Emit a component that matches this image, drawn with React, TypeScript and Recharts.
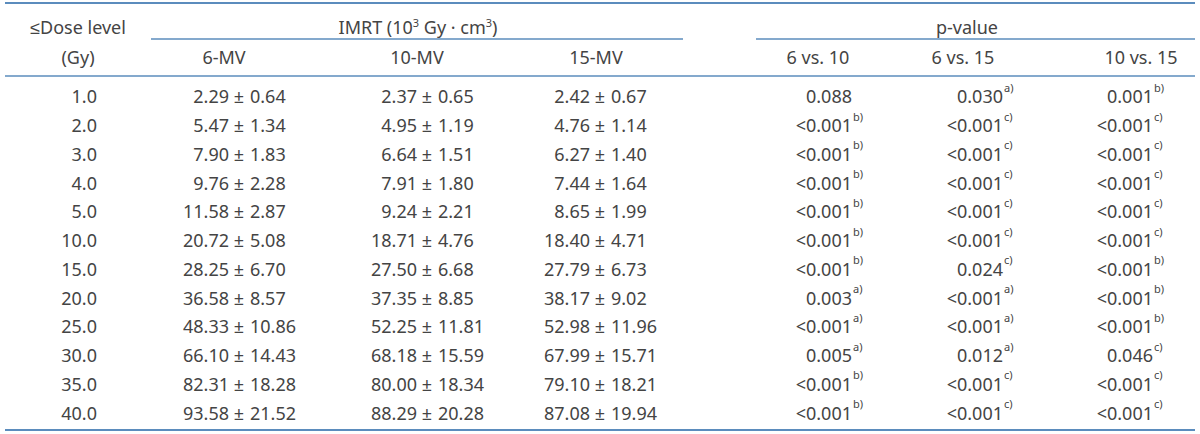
import React from 'react';
import { ScatterChart, Scatter, XAxis, YAxis, ReferenceLine } from 'recharts';

const doses = ['1.0', '2.0', '3.0', '4.0', '5.0', '10.0', '15.0', '20.0', '25.0', '30.0', '35.0', '40.0'];

const mean6 = [2.29, 5.47, 7.9, 9.76, 11.58, 20.72, 28.25, 36.58, 48.33, 66.1, 82.31, 93.58];
const sd6 = [0.64, 1.34, 1.83, 2.28, 2.87, 5.08, 6.7, 8.57, 10.86, 14.43, 18.28, 21.52];
const mean10 = [2.37, 4.95, 6.64, 7.91, 9.24, 18.71, 27.5, 37.35, 52.25, 68.18, 80.0, 88.29];
const sd10 = [0.65, 1.19, 1.51, 1.8, 2.21, 4.76, 6.68, 8.85, 11.81, 15.59, 18.34, 20.28];
const mean15 = [2.42, 4.76, 6.27, 7.44, 8.65, 18.4, 27.79, 38.17, 52.98, 67.99, 79.1, 87.08];
const sd15 = [0.67, 1.14, 1.4, 1.64, 1.99, 4.71, 6.73, 9.02, 11.96, 15.71, 18.21, 19.94];

const p6v10 = ['0.088', '<0.001', '<0.001', '<0.001', '<0.001', '<0.001', '<0.001', '0.003', '<0.001', '0.005', '<0.001', '<0.001'];
const note6v10 = ['', 'b)', 'b)', 'b)', 'b)', 'b)', 'b)', 'a)', 'a)', 'a)', 'b)', 'b)'];
const p6v15 = ['0.030', '<0.001', '<0.001', '<0.001', '<0.001', '<0.001', '0.024', '<0.001', '<0.001', '0.012', '<0.001', '<0.001'];
const note6v15 = ['a)', 'c)', 'c)', 'c)', 'c)', 'c)', 'c)', 'a)', 'a)', 'a)', 'c)', 'c)'];
const p10v15 = ['0.001', '<0.001', '<0.001', '<0.001', '<0.001', '<0.001', '<0.001', '<0.001', '<0.001', '0.046', '<0.001', '<0.001'];
const note10v15 = ['b)', 'c)', 'c)', 'c)', 'c)', 'c)', 'b)', 'b)', 'b)', 'c)', 'c)', 'c)'];

const subHeads = ['6-MV', '10-MV', '15-MV', '6 vs. 10', '6 vs. 15', '10 vs. 15'];

// layout: x in px of the 1200 wide table, y in row units (row 0 = first dose row)
const W = 1200;
const H = 434;
const Y_DOMAIN: [number, number] = [-3.374, 11.722];
const TITLE_ROW = -2.42;
const SUB_ROW = -1.36;
const RULE_TOP = -3.27;
const RULE_GROUP = -2.02;
const RULE_HEAD = -0.73;
const RULE_BOTTOM = 11.58;

const TEXT = '#444';
const RULE = '#5b8cbd';
const FONT = '"Noto Sans", sans-serif';
const FS = 18;
const SUP = 11;

const doseRows = doses.map((d, i) => ({ x: 97, y: i, text: d }));
const mvRows = (cx: number, means: number[], sds: number[]) =>
  means.map((m, i) => ({ x: cx, y: i, mean: m.toFixed(2), sd: sds[i].toFixed(2) }));
const pRows = (cx: number, ps: string[], notes: string[]) =>
  ps.map((p, i) => ({ x: cx, y: i, text: p, note: notes[i] }));

const subHeadX = [224, 417, 596, 818, 963, 1141];
const subHeadRows = subHeads.map((s, i) => ({ x: subHeadX[i], y: SUB_ROW, text: s }));

const DoseCell = (props: any) => (
  <text x={props.cx} y={props.cy} dy="0.36em" textAnchor="end" fill={TEXT} fontSize={FS} fontFamily={FONT}>
    {props.payload.text}
  </text>
);

const MvCell = (props: any) => {
  const { cx, cy, payload } = props;
  return (
    <g fill={TEXT} fontSize={FS} fontFamily={FONT}>
      <text x={cx - 10} y={cy} dy="0.36em" textAnchor="end">{payload.mean}</text>
      <text x={cx} y={cy} dy="0.36em" textAnchor="middle">±</text>
      <text x={cx + 11} y={cy} dy="0.36em" textAnchor="start">{payload.sd}</text>
    </g>
  );
};

const PCell = (props: any) => {
  const { cx, cy, payload } = props;
  return (
    <g fill={TEXT} fontFamily={FONT}>
      <text x={cx} y={cy} dy="0.36em" textAnchor="end" fontSize={FS}>{payload.text}</text>
      {payload.note ? (
        <text x={cx + 1} y={cy - 5} textAnchor="start" fontSize={SUP}>{payload.note}</text>
      ) : null}
    </g>
  );
};

const CenterCell = (props: any) => (
  <text x={props.cx} y={props.cy} dy="0.36em" textAnchor="middle" fill={TEXT} fontSize={FS} fontFamily={FONT}>
    {props.payload.text}
  </text>
);

const TitleCell = (props: any) => {
  const { cx, cy, payload } = props;
  if (payload.kind === 'imrt') {
    return (
      <text x={cx} y={cy} dy="0.36em" textAnchor="middle" fill={TEXT} fontSize={FS} fontFamily={FONT}>
        IMRT (10<tspan dy={-7} fontSize={SUP}>3</tspan>
        <tspan dy={7}> Gy · cm</tspan>
        <tspan dy={-7} fontSize={SUP}>3</tspan>
        <tspan dy={7}>)</tspan>
      </text>
    );
  }
  return (
    <text x={cx} y={cy} dy="0.36em" textAnchor="middle" fill={TEXT} fontSize={FS} fontFamily={FONT}>
      {payload.text}
    </text>
  );
};

const titleRows = [
  { x: 78, y: TITLE_ROW, text: '≤Dose level', kind: 'text' },
  { x: 78, y: SUB_ROW, text: '(Gy)', kind: 'text' },
  { x: 418, y: TITLE_ROW, text: 'IMRT', kind: 'imrt' },
  { x: 967, y: TITLE_ROW, text: 'p-value', kind: 'text' },
];

export default function App() {
  return (
    <div style={{ position: 'absolute', left: 0, top: 0, background: '#fff' }}>
      <ScatterChart width={W} height={H} margin={{ top: 0, right: 0, bottom: 0, left: 0 }}>
        <XAxis type="number" dataKey="x" domain={[0, W]} hide />
        <YAxis type="number" dataKey="y" domain={Y_DOMAIN} reversed hide />

        <ReferenceLine segment={[{ x: 5, y: RULE_TOP }, { x: 1195, y: RULE_TOP }]} stroke={RULE} strokeWidth={2} />
        <ReferenceLine segment={[{ x: 151, y: RULE_GROUP }, { x: 683, y: RULE_GROUP }]} stroke={RULE} strokeWidth={1.5} />
        <ReferenceLine segment={[{ x: 756, y: RULE_GROUP }, { x: 1195, y: RULE_GROUP }]} stroke={RULE} strokeWidth={1.5} />
        <ReferenceLine segment={[{ x: 5, y: RULE_HEAD }, { x: 1195, y: RULE_HEAD }]} stroke={RULE} strokeWidth={1.5} />
        <ReferenceLine segment={[{ x: 5, y: RULE_BOTTOM }, { x: 1195, y: RULE_BOTTOM }]} stroke={RULE} strokeWidth={2} />

        <Scatter data={titleRows} shape={TitleCell} isAnimationActive={false} />
        <Scatter data={subHeadRows} shape={CenterCell} isAnimationActive={false} />
        <Scatter data={doseRows} shape={DoseCell} isAnimationActive={false} />
        <Scatter data={mvRows(239, mean6, sd6)} shape={MvCell} isAnimationActive={false} />
        <Scatter data={mvRows(427, mean10, sd10)} shape={MvCell} isAnimationActive={false} />
        <Scatter data={mvRows(600, mean15, sd15)} shape={MvCell} isAnimationActive={false} />
        <Scatter data={pRows(852, p6v10, note6v10)} shape={PCell} isAnimationActive={false} />
        <Scatter data={pRows(1003, p6v15, note6v15)} shape={PCell} isAnimationActive={false} />
        <Scatter data={pRows(1153, p10v15, note10v15)} shape={PCell} isAnimationActive={false} />
      </ScatterChart>
    </div>
  );
}
